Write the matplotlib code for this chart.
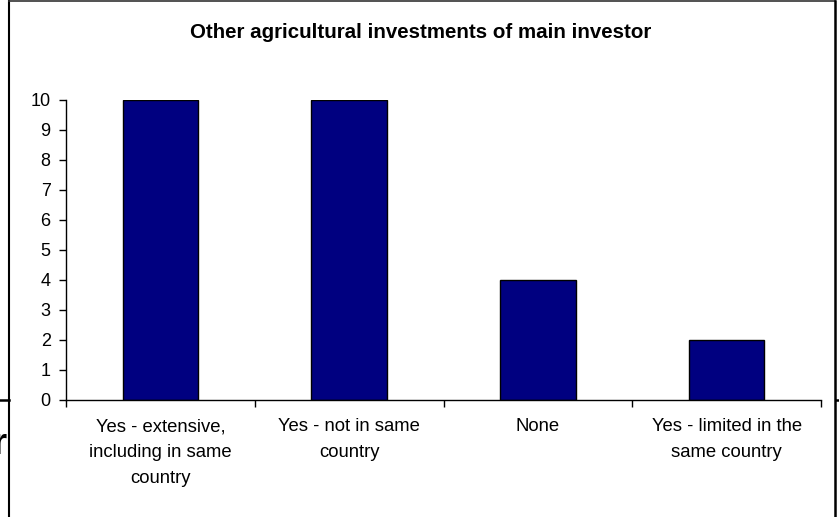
import matplotlib
matplotlib.use("Agg")
import matplotlib.pyplot as plt
from matplotlib.lines import Line2D
import numpy as np

plt.rcParams['font.family'] = ['Liberation Sans', 'DejaVu Sans']

title = "Other agricultural investments of main investor"
categories = [
    "Yes - extensive,\nincluding in same\ncountry",
    "Yes - not in same\ncountry",
    "None",
    "Yes - limited in the\nsame country",
]
counts = [10, 10, 4, 2]
y_ticks = list(range(0, 11))

W, H = 839, 517
fig = plt.figure(figsize=(W / 100, H / 100), dpi=100)

# plot area in pixel units
left_px, right_px, top_px, bottom_px = 66, 821, 100, 400
ax = fig.add_axes([left_px / W, 1 - bottom_px / H,
                   (right_px - left_px) / W, (bottom_px - top_px) / H])

x = np.arange(len(categories))
ax.bar(x, counts, width=0.4, color='#000080', edgecolor='black', linewidth=1.0)

ax.set_xlim(-0.5, len(categories) - 0.5)
ax.set_ylim(0, 10)
ax.set_yticks(y_ticks)
ax.tick_params(axis='y', direction='out', length=5, width=1, labelsize=13, pad=6)

ax.set_xticks(x)
ax.set_xticklabels(categories, fontsize=13.3, linespacing=1.7)
ax.tick_params(axis='x', which='major', length=0, pad=13)
ax.set_xticks(np.arange(-0.5, len(categories)), minor=True)
ax.tick_params(axis='x', which='minor', direction='out', length=5, width=1)

for s in ('top', 'right'):
    ax.spines[s].set_visible(False)
for s in ('left', 'bottom'):
    ax.spines[s].set_linewidth(1.0)
    ax.spines[s].set_color('black')

fig.text(421 / W, 1 - 33 / H, title, ha='center', va='center',
         fontsize=14.8, fontweight='bold')

# surrounding frame and page rules
def px_line(xs, ys, lw=1.5, color='black'):
    fig.add_artist(Line2D([v / W for v in xs], [1 - v / H for v in ys],
                          transform=fig.transFigure, color=color, linewidth=lw))

px_line([8.5, 8.5], [1, 517], lw=1.5)
px_line([8.5, 835], [1, 1], lw=1.2, color='#333333')
px_line([835, 835], [1, 517], lw=1.8)
px_line([0, 8.5], [400, 400], lw=1.8)
px_line([836, 839], [400, 400], lw=1.8)

fig.text(7 / W, 1 - 454 / H, "r", ha='right', va='baseline',
         fontsize=26, fontweight='bold')

fig.savefig("out.png", dpi=100)
